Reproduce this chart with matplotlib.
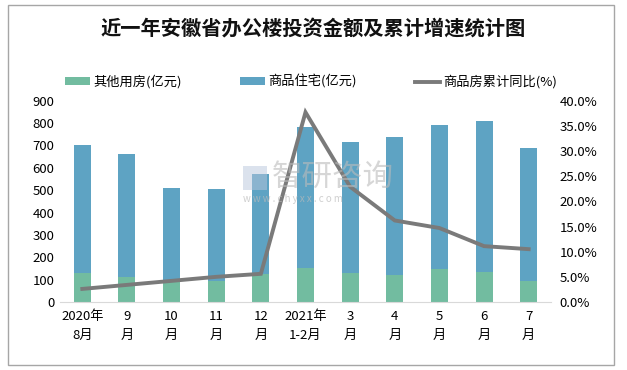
import matplotlib
matplotlib.use("Agg")
import matplotlib.pyplot as plt
from matplotlib.patches import Rectangle, Patch
from matplotlib.lines import Line2D
import numpy as np

plt.rcParams['font.family'] = ['Noto Sans CJK SC', 'DejaVu Sans']

categories = ["2020年\n8月", "9\n月", "10\n月", "11\n月", "12\n月", "2021年\n1-2月",
              "3\n月", "4\n月", "5\n月", "6\n月", "7\n月"]
other_use = [131, 112, 95, 95, 127, 152, 130, 119, 146, 134, 94]
total_invest = [702, 662, 510, 505, 572, 782, 715, 738, 793, 809, 689]
residential = [t - o for t, o in zip(total_invest, other_use)]
growth_pct = [2.6, 3.4, 4.2, 5.0, 5.6, 37.7, 22.9, 16.2, 14.7, 11.1, 10.5]

left_ticks = list(range(0, 1000, 100))
right_ticks = [0, 5, 10, 15, 20, 25, 30, 35, 40]

c_green = "#72BCA0"
c_blue = "#5EA3C3"
c_line = "#7A7A7A"

fig = plt.figure(figsize=(6.27, 3.70), dpi=100)
ax = fig.add_axes([60/627, 1-302/370, (551-60)/627, (302-100.7)/370])
x = np.arange(len(categories))
ax.bar(x, other_use, width=0.38, color=c_green, zorder=2)
ax.bar(x, residential, width=0.38, bottom=other_use, color=c_blue, zorder=2)
ax.set_xlim(-0.5, len(categories) - 0.5)
ax.set_ylim(0, 900)
ax.set_yticks(left_ticks)
ax.set_yticklabels([str(v) for v in left_ticks], fontsize=9.5)
ax.set_xticks(x)
ax.set_xticklabels(categories, fontsize=9.5, linespacing=1.55)
for s in ["top", "right", "left"]:
    ax.spines[s].set_visible(False)
ax.spines["bottom"].set_color("#D9D9D9")
ax.tick_params(axis="both", length=0)
ax.tick_params(axis="y", pad=4)
ax.tick_params(axis="x", pad=6)

ax2 = ax.twinx()
ax2.plot(x, growth_pct, color=c_line, lw=2.8, zorder=3, solid_joinstyle="miter")
ax2.set_ylim(0, 40)
ax2.set_yticks(right_ticks)
ax2.set_yticklabels([f"{v:.1f}%" for v in right_ticks], fontsize=9.5)
for s in ["top", "right", "left", "bottom"]:
    ax2.spines[s].set_visible(False)
ax2.tick_params(axis="y", length=0, pad=6)

# watermark
fig.text(272/627, 1-177/370, "智研咨询", fontsize=22, color="#BBBBBB", alpha=0.6,
         ha="left", va="center", zorder=5)
fig.text(243/627, 1-199/370, "w w w . c h y x x . c o m", fontsize=7, color="#BBBBBB",
         alpha=0.7, ha="left", va="center", zorder=5)
fig.patches.append(Rectangle((243/627, 1-190/370), 24/627, 24/370,
                             transform=fig.transFigure, facecolor="#B8C6DC",
                             alpha=0.5, edgecolor="none", zorder=5))

fig.text(0.5, 1-28/370, "近一年安徽省办公楼投资金额及累计增速统计图",
         fontsize=14.6, fontweight="bold", ha="center", va="center", color="#111111")

handles = [Patch(facecolor=c_green, edgecolor="none"),
           Patch(facecolor=c_blue, edgecolor="none"),
           Line2D([0], [0], color=c_line, lw=2.8)]
labels = ["其他用房(亿元)", "商品住宅(亿元)", "商品房累计同比(%)"]
fig.legend(handles, labels, loc="center left", bbox_to_anchor=(60/627, 1-82/370),
           ncol=3, frameon=False, fontsize=9.5, handlelength=1.9, handleheight=0.55,
           handletextpad=0.25, columnspacing=4.4, borderaxespad=0)

fig.patches.append(Rectangle((8/627, 5/370), (614-8)/627, (365-5)/370,
                             transform=fig.transFigure, fill=False,
                             edgecolor="#A6A6A6", lw=1))

fig.savefig("out.png", dpi=100)
